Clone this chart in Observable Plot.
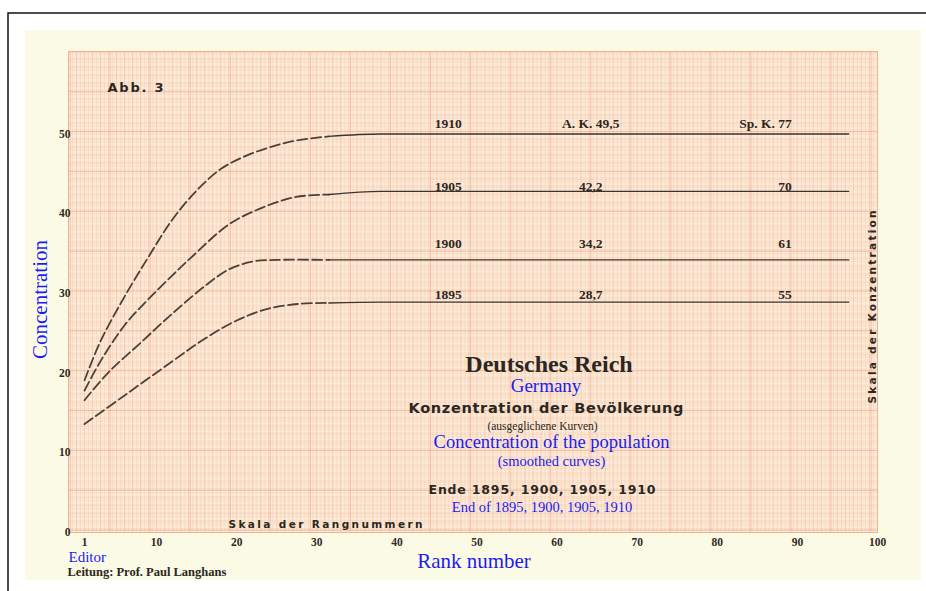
<!DOCTYPE html>
<html>
<head>
<meta charset="utf-8">
<script src="https://cdn.jsdelivr.net/npm/d3@7"></script>
<script src="https://cdn.jsdelivr.net/npm/@observablehq/plot@0.6"></script>
<style>
  html, body { margin: 0; padding: 0; background: #ffffff; }
  #chart svg { display: block; }
</style>
</head>
<body>
<div id="chart"></div>
<script>
// ---------- data ----------
const years = [1910, 1905, 1900, 1895];

// dashed (smoothed) part of each curve: rank number -> concentration
const ranks1910 = [1, 3, 6, 9, 12, 15, 18, 21, 24, 27, 31.5];
const conc1910  = [19.1, 24.0, 29.6, 34.6, 39.3, 42.9, 45.6, 47.2, 48.3, 49.1, 49.7];
const ranks1905 = [1, 3, 6, 9, 12, 14.2, 19.1, 23.3, 27.4, 31.5];
const conc1905  = [17.8, 21.5, 26.0, 29.3, 32.3, 34.4, 38.7, 40.8, 42.1, 42.4];
const ranks1900 = [1, 4, 8, 12, 16, 19, 22, 25, 31.5];
const conc1900  = [16.6, 20.1, 23.8, 27.5, 30.9, 33.0, 34.0, 34.2, 34.2];
const ranks1895 = [1, 6, 12, 16, 20, 24, 28, 31.5];
const conc1895  = [13.6, 17.2, 21.5, 24.3, 26.6, 28.1, 28.7, 28.8];

// solid (plateau) part of each curve
const solidRanks = [31.5, 38, 96.4];
const solid1910 = [49.7, 50.0, 50.0];
const solid1905 = [42.4, 42.8, 42.8];
const solid1900 = [34.2, 34.2, 34.2];
const solid1895 = [28.8, 28.9, 28.9];

// labels written above the plateaus
const yearLabels = ["1910", "1905", "1900", "1895"];
const akLabels   = ["A. K. 49,5", "42,2", "34,2", "28,7"];
const spLabels   = ["Sp. K. 77", "70", "61", "55"];

// axis tick labels
const xTicks = [1, 10, 20, 30, 40, 50, 60, 70, 80, 90, 100];
const yTicks = [0, 10, 20, 30, 40, 50];

// ---------- layout / style ----------
const W = 926, H = 591;
const ML = 68, MR = 49, MT = 51, MB = 59;
const pxPerY = (H - MT - MB) / 60.35;
const ink = "#2c2722";
const blue = "#1c1cf2";
const serif = "Liberation Serif, Times New Roman, serif";
const sans = "DejaVu Sans, Liberation Sans, sans-serif";

const dashedData = [
  ...ranks1910.map((r, i) => ({year: 1910, rank: r, conc: conc1910[i]})),
  ...ranks1905.map((r, i) => ({year: 1905, rank: r, conc: conc1905[i]})),
  ...ranks1900.map((r, i) => ({year: 1900, rank: r, conc: conc1900[i]})),
  ...ranks1895.map((r, i) => ({year: 1895, rank: r, conc: conc1895[i]}))
];
const solidSeries = [solid1910, solid1905, solid1900, solid1895];
const solidData = years.flatMap((y, k) =>
  solidRanks.map((r, i) => ({year: y, rank: r, conc: solidSeries[k][i]})));

const rows = years.map((y, k) => ({
  year: yearLabels[k], ak: akLabels[k], sp: spLabels[k],
  conc: solidSeries[k][solidSeries[k].length - 1]
}));
const lift = [-10, -4.5, -16.5, -7.5]; // pixel lift of each label row above its line

// annotation helper: text placed at pixel position
function note(str, px, py, o = {}) {
  return Plot.text([str], {
    frameAnchor: "top-left", dx: px - ML, dy: py - MT,
    text: d => d, textAnchor: "middle", lineAnchor: "middle", ...o
  });
}

const fineX = d3.range(-1, 100.001, 0.5);
const fineY = d3.range(0, 60.35, 0.5);
const unitX = d3.range(-1, 100.001, 1);
const unitY = d3.range(0.3, 60.35, 1);
const majX = d3.range(-0.8, 100.001, 5);
const majY = d3.range(0.3, 60.35, 5);

const chart = Plot.plot({
  width: W, height: H,
  marginLeft: ML, marginRight: MR, marginTop: MT, marginBottom: MB,
  style: {background: "transparent", overflow: "hidden"},
  x: {domain: [-1, 100], axis: null},
  y: {domain: [0, 60.35], axis: null},
  marks: [
    Plot.frame({fill: "#fcebd8", stroke: "none"}),
    Plot.ruleX(fineX, {stroke: "#f3c1a6", strokeWidth: 0.6, strokeOpacity: 0.5}),
    Plot.ruleY(fineY, {stroke: "#f3c1a6", strokeWidth: 0.6, strokeOpacity: 0.5}),
    Plot.ruleX(unitX, {stroke: "#f0b598", strokeWidth: 0.6, strokeOpacity: 0.5}),
    Plot.ruleY(unitY, {stroke: "#f0b598", strokeWidth: 0.6, strokeOpacity: 0.5}),
    Plot.ruleX(majX, {stroke: "#eba084", strokeWidth: 0.9, strokeOpacity: 0.55}),
    Plot.ruleY(majY, {stroke: "#eba084", strokeWidth: 0.9, strokeOpacity: 0.55}),
    Plot.frame({stroke: "#eeb49a", strokeWidth: 1}),

    // curves
    Plot.line(dashedData, {x: "rank", y: "conc", z: "year", curve: "catmull-rom",
      stroke: "#4a423a", strokeWidth: 1.8, strokeDasharray: "10,4"}),
    Plot.line(solidData, {x: "rank", y: "conc", z: "year", curve: "monotone-x",
      stroke: "#3a342f", strokeWidth: 1.4}),

    // plateau labels
    Plot.text(rows, {x: 46.4, y: (d, i) => d.conc - lift[i] / pxPerY, text: "year",
      fontFamily: serif, fontWeight: "bold", fontSize: 13.5, fill: ink}),
    Plot.text(rows, {x: 64.2, y: (d, i) => d.conc - lift[i] / pxPerY, text: "ak",
      fontFamily: serif, fontWeight: "bold", fontSize: 13.5, fill: ink}),
    Plot.text(rows, {x: 89.3, y: (d, i) => d.conc - lift[i] / pxPerY, text: "sp",
      textAnchor: "end", fontFamily: serif, fontWeight: "bold", fontSize: 13.5, fill: ink}),

    // tick labels
    Plot.text(xTicks, {x: d => d, text: d => String(d), frameAnchor: "bottom",
      lineAnchor: "middle", textAnchor: "middle", dy: 10,
      fontFamily: serif, fontWeight: "bold", fontSize: 11.5, fill: "#2f2a26"}),
    Plot.text(yTicks, {y: d => d, text: d => String(d), frameAnchor: "left",
      lineAnchor: "middle", textAnchor: "end", dx: 2,
      fontFamily: serif, fontWeight: "bold", fontSize: 11.5, fill: "#2f2a26"}),

    // annotations
    note("Abb. 3", 135, 87, {fontFamily: sans, fontWeight: "bold", fontSize: 13, fill: ink}),
    note("Skala der Rangnummern", 325, 524, {fontFamily: sans, fontWeight: "bold", fontSize: 10.5, fill: ink}),
    note("Skala der Konzentration", 872, 306.5, {rotate: -90, fontFamily: sans, fontWeight: "bold", fontSize: 10.5, fill: ink}),
    note("Deutsches Reich", 548.5, 364, {fontFamily: serif, fontWeight: "bold", fontSize: 24, fill: ink}),
    note("Germany", 545.5, 385.5, {fontFamily: serif, fontSize: 19, fill: blue}),
    note("Konzentration der Bevölkerung", 545.5, 407.5, {fontFamily: sans, fontWeight: "bold", fontSize: 14.5, fill: ink}),
    note("(ausgeglichene Kurven)", 542, 426, {fontFamily: serif, fontSize: 11.5, fill: ink}),
    note("Concentration of the population", 551, 442, {fontFamily: serif, fontSize: 18.5, fill: blue}),
    note("(smoothed curves)", 551, 461, {fontFamily: serif, fontSize: 14.5, fill: blue}),
    note("Ende 1895, 1900, 1905, 1910", 541.5, 489, {fontFamily: sans, fontWeight: "bold", fontSize: 12.5, fill: ink}),
    note("End of 1895, 1900, 1905, 1910", 541.5, 507, {fontFamily: serif, fontSize: 14.5, fill: blue}),
    note("Rank number", 473.5, 561, {fontFamily: serif, fontSize: 21, fill: blue}),
    note("Editor", 68, 557, {textAnchor: "start", fontFamily: serif, fontSize: 15, fill: blue}),
    note("Leitung: Prof. Paul Langhans", 67, 571, {textAnchor: "start", fontFamily: serif, fontWeight: "bold", fontSize: 12.5, fill: ink}),
    note("Concentration", 40, 299, {rotate: -90, fontFamily: serif, fontSize: 21, fill: blue})
  ]
});

// paper sheet and outer frame behind everything
const svg = d3.select(chart);
const bg = svg.insert("g", ":first-child");
bg.append("rect").attr("x", 0).attr("y", 0).attr("width", W).attr("height", H).attr("fill", "#ffffff");
bg.append("rect").attr("x", 25).attr("y", 30).attr("width", 896).attr("height", 550).attr("fill", "#fbfae5");
bg.append("rect").attr("x", 8).attr("y", 13).attr("width", 1000).attr("height", 1000)
  .attr("fill", "none").attr("stroke", "#111").attr("stroke-width", 1.5);

// spaced-out lettering of the original
const spaced = {
  "Abb. 3": 56,
  "Skala der Rangnummern": 194,
  "Skala der Konzentration": 193,
  "Ende 1895, 1900, 1905, 1910": 227,
  "Konzentration der Bevölkerung": 275
};
svg.selectAll("text").each(function() {
  const t = this.textContent;
  if (spaced[t]) d3.select(this).attr("textLength", spaced[t]).attr("lengthAdjust", "spacing");
});

document.getElementById("chart").appendChild(chart);
</script>
</body>
</html>
